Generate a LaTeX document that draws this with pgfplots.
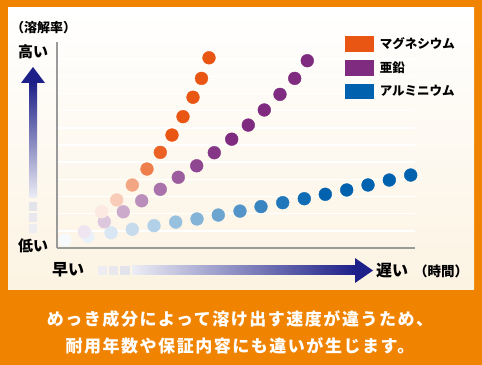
\documentclass[border=0pt]{standalone}
\usepackage{pgfplots}
\pgfplotsset{compat=1.18}
\usepackage{pgfplotstable}
\usepackage{fontspec}
\newfontfamily\jp{Noto Sans CJK JP}
\definecolor{frameorange}{HTML}{F08300}
\definecolor{mgorange}{HTML}{E95513}
\definecolor{znpurple}{HTML}{7E2B80}
\definecolor{alblue}{HTML}{0062AF}
\definecolor{navy}{HTML}{1D2088}
\definecolor{cream}{HTML}{FCF3E2}
\definecolor{axgrey}{HTML}{9A9A9A}
\definecolor{sqA}{HTML}{E3E3EB}
\definecolor{sqB}{HTML}{E8E8EE}
\definecolor{sqC}{HTML}{EDEDF1}

% x: time (px from origin), y: dissolution (grid units), a: visibility
\pgfplotstableread{
x y a
44.7 2.11 0.12
59.7 2.80 0.30
75.3 3.67 0.52
90.0 4.60 0.75
103.3 5.57 0.92
115.0 6.58 1
126.0 7.65 1
136.0 8.78 1
144.5 9.88 1
152.0 11.08 1
}\mgdata
\pgfplotstableread{
x y a
27.3 0.95 0.12
47.3 1.53 0.26
66.3 2.11 0.40
84.7 2.75 0.53
103.3 3.42 0.66
121.3 4.12 0.76
139.7 4.79 0.86
157.3 5.55 0.94
174.7 6.34 1
191.3 7.16 1
207.3 8.04 1
223.0 8.95 1
237.7 9.88 1
250.3 10.91 1
}\zndata
\pgfplotstableread{
x y a
8.0 0.47 0.03
31.0 0.66 0.08
54.0 0.89 0.15
75.3 1.09 0.22
97.0 1.30 0.30
118.7 1.51 0.40
140.0 1.69 0.48
161.3 1.92 0.57
183.0 2.15 0.67
204.0 2.41 0.77
225.7 2.64 0.86
247.3 2.87 0.93
268.3 3.13 1
289.7 3.38 1
311.0 3.67 1
332.3 3.96 1
353.7 4.25 1
}\aldata

\begin{document}
\begin{tikzpicture}
\useasboundingbox (0,0) rectangle (482bp,365bp);
\fill[frameorange] (0,0) rectangle (482bp,365bp);
\shade[top color=white, bottom color=cream] (8bp,75bp) rectangle (474bp,357bp);

\begin{axis}[
  at={(57bp,117bp)}, anchor=south west,
  scale only axis, width=358bp, height=206bp,
  xmin=0, xmax=358, ymin=0, ymax=12,
  axis x line=bottom, axis y line=left,
  axis line style={-, draw=axgrey, line width=1.5bp},
  xtick=\empty, ytick={1,...,11}, yticklabels={},
  major tick length=0pt,
  ymajorgrids, grid style={white, line width=1.4bp},
  point meta min=0, point meta max=1,
  clip=false,
  legend style={at={(axis description cs:0.804,1.027)}, anchor=north west,
    draw=none, fill=none, inner sep=0pt, outer sep=0pt, row sep=8bp,
    nodes={inner sep=0pt, outer sep=0pt},
    /tikz/every odd column/.append style={column sep=6bp},
    font=\jp\bfseries\fontsize{12.5bp}{14bp}\selectfont},
  legend cell align=left,
  legend image code/.code={\fill[#1] (0bp,-7.8bp) rectangle (29bp,7.8bp);},
]
\addlegendimage{fill=mgorange, draw=none}
\addlegendentry{マグネシウム}
\addlegendimage{fill=znpurple, draw=none}
\addlegendentry{亜鉛}
\addlegendimage{fill=alblue, draw=none}
\addlegendentry{アルミニウム}

\addplot[scatter, only marks, mark=*, mark size=6.4bp, point meta=explicit,
  colormap={almap}{color=(white) color=(alblue)},
  scatter/use mapped color={draw=mapped color, fill=mapped color}, forget plot]
  table[x=x, y=y, meta=a] {\aldata};
\addplot[scatter, only marks, mark=*, mark size=6.4bp, point meta=explicit,
  colormap={znmap}{color=(white) color=(znpurple)},
  scatter/use mapped color={draw=mapped color, fill=mapped color}, forget plot]
  table[x=x, y=y, meta=a] {\zndata};
\addplot[scatter, only marks, mark=*, mark size=6.4bp, point meta=explicit,
  colormap={mgmap}{color=(white) color=(mgorange)},
  scatter/use mapped color={draw=mapped color, fill=mapped color}, forget plot]
  table[x=x, y=y, meta=a] {\mgdata};
\end{axis}

% vertical arrow
\fill[navy] (21bp,282bp) -- (33bp,298bp) -- (45bp,282bp) -- cycle;
\shade[top color=navy, bottom color=navy!8] (29bp,167bp) rectangle (37bp,282.5bp);
\fill[sqA] (29bp,154bp) rectangle (37bp,163bp);
\fill[sqB] (29bp,143bp) rectangle (37bp,152bp);
\fill[sqC] (29bp,132bp) rectangle (37bp,141bp);
% horizontal arrow
\fill[sqC] (98bp,90bp) rectangle (107bp,99bp);
\fill[sqB] (109bp,90bp) rectangle (118bp,99bp);
\fill[sqA] (120bp,90bp) rectangle (130bp,99bp);
\shade[left color=navy!8, right color=navy] (132bp,90bp) rectangle (355.5bp,99bp);
\fill[navy] (355bp,82bp) -- (373bp,94.5bp) -- (355bp,107bp) -- cycle;

% labels
\node[font=\jp\bfseries\fontsize{13bp}{15bp}\selectfont] at (43.5bp,337.5bp) {（溶解率）};
\node[font=\jp\bfseries\fontsize{15bp}{17bp}\selectfont] at (33bp,313.5bp) {高い};
\node[font=\jp\bfseries\fontsize{15bp}{17bp}\selectfont] at (33bp,119.5bp) {低い};
\node[font=\jp\bfseries\fontsize{16bp}{18bp}\selectfont] at (68bp,95bp) {早い};
\node[font=\jp\bfseries\fontsize{16bp}{18bp}\selectfont] at (392bp,94bp) {遅い};
\node[font=\jp\bfseries\fontsize{13.5bp}{15bp}\selectfont] at (441bp,94bp) {（時間）};

\node[text=white, font=\jp\bfseries\addfontfeature{LetterSpace=9}\fontsize{17bp}{20bp}\selectfont] at (240bp,46bp) {めっき成分によって溶け出す速度が違うため、};
\node[text=white, font=\jp\bfseries\addfontfeature{LetterSpace=9}\fontsize{17bp}{20bp}\selectfont] at (240bp,19bp) {耐用年数や保証内容にも違いが生じます。};
\end{tikzpicture}
\end{document}
